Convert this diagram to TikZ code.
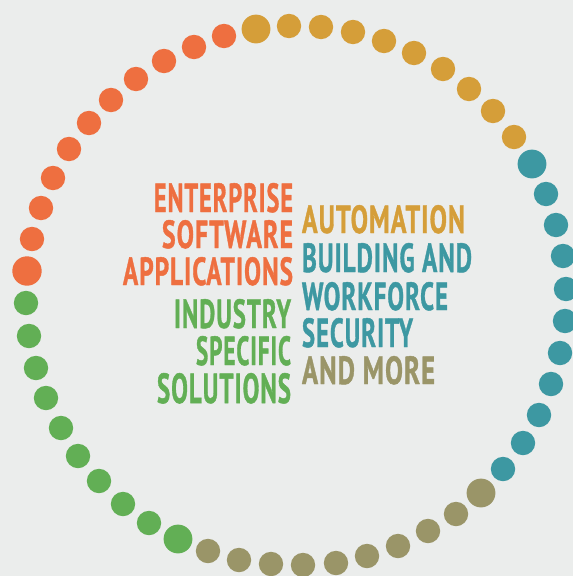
\documentclass[tikz,border=0pt]{standalone}
\usepackage{fontspec}
\usepackage{graphicx}
\newfontfamily\condfont[FakeBold=1.2,LetterSpace=4]{PT Sans}
\definecolor{bgc}{HTML}{EBEDEC}
\definecolor{orng}{HTML}{EE6F40}
\definecolor{gold}{HTML}{D59E39}
\definecolor{teal}{HTML}{3D98A2}
\definecolor{olive}{HTML}{9A9568}
\definecolor{grn}{HTML}{62AF55}
\newcommand{\fitline}[3]{\resizebox{#1pt}{#2pt}{\condfont\bfseries #3}}
\begin{document}
\begin{tikzpicture}[x=1pt,y=-1pt,
  lbl/.style={inner sep=0pt, outer sep=0pt},
  lft/.style={lbl, anchor=base east},
  rgt/.style={lbl, anchor=base west}]
\fill[bgc] (0,0) rectangle (573,576);
\useasboundingbox (0,0) rectangle (573,576);
% ring of dots
\foreach \x/\y in {224/36,194/47,164/61,136/79,111/100,89/123,69/149,53/178,41/208,32/239}
  \fill[orng] (\x,\y) circle (12.2);
\fill[orng] (27,271) circle (14.7);
\fill[gold] (256,29) circle (14.4);
\foreach \x/\y in {289/26,321/27,353/32,384/41,414/53,443/69,469/89,493/111,514/137}
  \fill[gold] (\x,\y) circle (12.2);
\fill[teal] (532,164) circle (14.4);
\foreach \x/\y in {546/194,556/225,563/256,566/289,565/321,560/353,551/384,539/415,523/443,503/469}
  \fill[teal] (\x,\y) circle (12.2);
\fill[olive] (481,493) circle (14.4);
\foreach \x/\y in {456/514,428/531,398/546,367/556,336/563,303/565,271/564,239/560,208/551}
  \fill[olive] (\x,\y) circle (12.2);
\fill[grn] (178,539) circle (14.4);
\foreach \x/\y in {149/523,123/504,99/481,78/456,61/428,46/398,36/368,29/336,26/303}
  \fill[grn] (\x,\y) circle (12.2);
% left block
\node[lft, text=orng] (ent) at (293,212) {\fitline{139}{29}{ENTERPRISE}};
\node[lft, text=orng] (sof) at (293,248) {\fitline{131}{28}{SOFTWARE}};
\node[lft, text=orng] (app) at (293,285) {\fitline{170}{28}{APPLICATIONS}};
\node[lft, text=grn] (ind) at (291,328) {\fitline{117}{29}{INDUSTRY}};
\node[lft, text=grn] (spe) at (291,365) {\fitline{95}{29}{SPECIFIC}};
\node[lft, text=grn] (sol) at (291,403) {\fitline{134}{30}{SOLUTIONS}};
% right block
\node[rgt, text=gold] (aut) at (302,233) {\fitline{163}{28}{AUTOMATION}};
\node[rgt, text=teal] (bui) at (302,272) {\fitline{170}{29}{BUILDING AND}};
\node[rgt, text=teal] (wor) at (302,310) {\fitline{146}{28}{WORKFORCE}};
\node[rgt, text=teal] (sec) at (302,347) {\fitline{111}{29}{SECURITY}};
\node[rgt, text=olive] (mor) at (302,384) {\fitline{133}{28}{AND MORE}};
\end{tikzpicture}
\end{document}
